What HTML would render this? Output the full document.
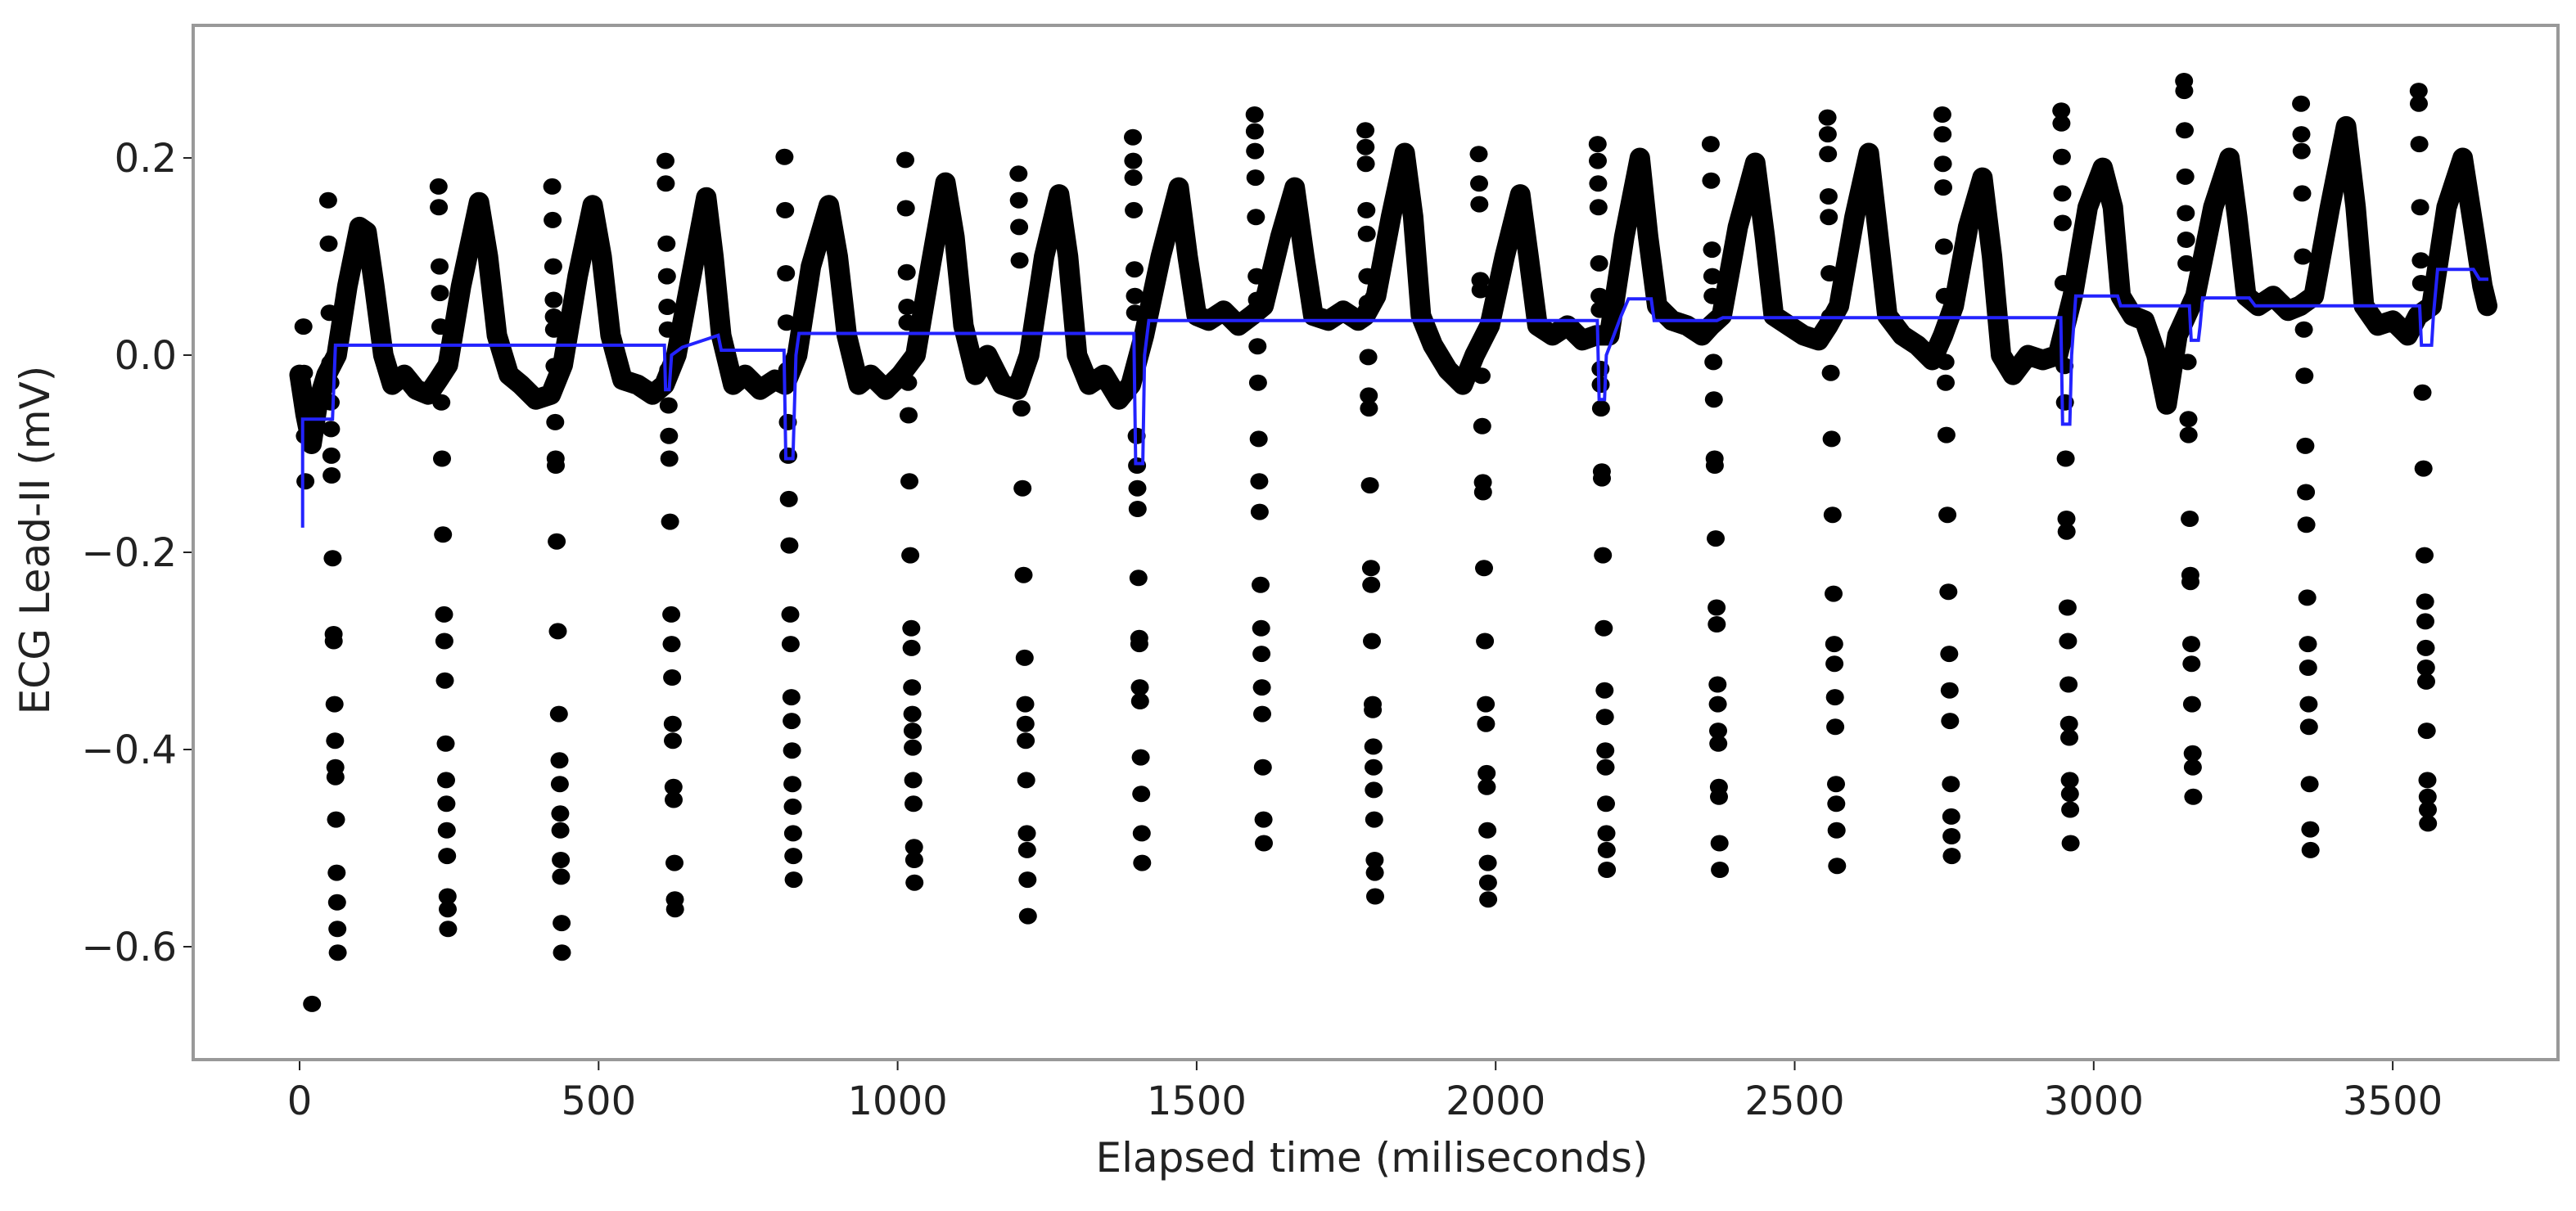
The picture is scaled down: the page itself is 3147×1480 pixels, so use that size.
<!DOCTYPE html>
<html><head><meta charset="utf-8"><style>
html,body{margin:0;padding:0;background:#fff;}
svg{display:block;}
text{font-family:"DejaVu Sans","Liberation Sans",sans-serif;fill:#222;}
</style></head><body>
<svg id="chart" width="3147" height="1480" viewBox="0 0 3147 1480" xmlns="http://www.w3.org/2000/svg">
<rect x="0" y="0" width="3147" height="1480" fill="#fff"/>
<g id="plot"></g>
<rect x="236" y="31" width="2889" height="1264" fill="none" stroke="#999" stroke-width="4"/>
<g id="xticks"></g>
<g id="yticks"></g>
<text x="1676" y="1432" font-size="50" text-anchor="middle">Elapsed time (miliseconds)</text>
<text x="0" y="0" font-size="50" text-anchor="middle" transform="translate(60,660) rotate(-90)">ECG Lead-II  (mV)</text>
</svg>
<script>
const xTicks=[0,500,1000,1500,2000,2500,3000,3500];
const xTickLabels=["0","500","1000","1500","2000","2500","3000","3500"];
const yTicks=[-0.6,-0.4,-0.2,0.0,0.2];
const yTickLabels=["\u22120.6","\u22120.4","\u22120.2","0.0","0.2"];
const traceT=[0,10,20,30,45,62,80,100,112,125,140,155,175,195,215,232,248,270,300,315,330,350,370,395,420,440,465,490,505,520,540,565,590,610,630,655,680,692,705,725,745,770,795,812,832,855,885,900,915,935,955,980,1005,1030,1055,1080,1095,1110,1130,1150,1175,1200,1220,1245,1270,1285,1300,1320,1345,1370,1390,1412,1440,1470,1485,1500,1520,1545,1570,1592,1612,1640,1664,1680,1695,1720,1745,1770,1782,1800,1825,1848,1862,1875,1895,1920,1945,1965,1990,2015,2041,2055,2070,2095,2120,2145,2168,2190,2215,2241,2255,2270,2295,2320,2345,2360,2378,2405,2434,2450,2465,2490,2515,2540,2556,2574,2600,2624,2640,2655,2680,2705,2730,2748,2766,2790,2814,2830,2845,2865,2890,2915,2940,2965,2990,3015,3032,3045,3065,3085,3105,3122,3140,3170,3200,3227,3240,3255,3275,3300,3325,3345,3368,3395,3422,3438,3452,3475,3500,3525,3542,3565,3590,3617,3635,3650,3658];
const traceV=[-0.02,-0.06,-0.09,-0.05,-0.02,0.0,0.07,0.13,0.125,0.07,0.0,-0.03,-0.02,-0.035,-0.04,-0.025,-0.01,0.07,0.155,0.1,0.02,-0.02,-0.03,-0.045,-0.04,-0.01,0.08,0.152,0.1,0.02,-0.025,-0.03,-0.04,-0.03,0.0,0.08,0.16,0.1,0.02,-0.03,-0.02,-0.035,-0.025,-0.03,0.0,0.09,0.152,0.1,0.02,-0.03,-0.02,-0.035,-0.02,0.0,0.09,0.175,0.12,0.03,-0.02,0.0,-0.03,-0.035,0.0,0.1,0.163,0.1,0.0,-0.03,-0.02,-0.045,-0.03,0.02,0.1,0.17,0.1,0.04,0.035,0.045,0.03,0.04,0.05,0.12,0.17,0.1,0.04,0.035,0.045,0.035,0.04,0.06,0.14,0.205,0.14,0.04,0.01,-0.015,-0.03,0.0,0.03,0.1,0.163,0.1,0.03,0.02,0.03,0.015,0.02,0.02,0.12,0.2,0.12,0.05,0.035,0.03,0.02,0.03,0.04,0.13,0.195,0.12,0.04,0.03,0.02,0.015,0.03,0.05,0.14,0.205,0.12,0.04,0.02,0.01,-0.005,0.02,0.05,0.13,0.18,0.1,0.0,-0.02,0.0,-0.005,0.0,0.06,0.15,0.19,0.15,0.06,0.04,0.035,0.0,-0.05,0.02,0.06,0.15,0.2,0.14,0.06,0.05,0.06,0.045,0.05,0.06,0.15,0.232,0.15,0.05,0.03,0.035,0.02,0.04,0.05,0.15,0.2,0.13,0.07,0.05];
const spikeTimes=[7,51,236,426,616,815,1017,1206,1398,1602,1787,1976,2175,2364,2560,2752,2951,3157,3352,3549];
const spikeVals=[
[0.029,-0.018,-0.055,-0.082,-0.128,-0.658],
[0.157,0.113,0.043,-0.008,-0.028,-0.048,-0.075,-0.102,-0.122,-0.206,-0.283,-0.290,-0.354,-0.391,-0.418,-0.428,-0.471,-0.525,-0.555,-0.582,-0.606],
[0.171,0.150,0.090,0.063,0.029,-0.048,-0.105,-0.182,-0.263,-0.290,-0.330,-0.394,-0.431,-0.455,-0.482,-0.508,-0.549,-0.562,-0.582],
[0.171,0.137,0.090,0.056,0.039,0.026,-0.011,-0.028,-0.068,-0.105,-0.112,-0.189,-0.280,-0.364,-0.411,-0.435,-0.465,-0.482,-0.512,-0.529,-0.576,-0.606],
[0.197,0.174,0.113,0.080,0.049,0.026,-0.015,-0.051,-0.082,-0.105,-0.169,-0.263,-0.293,-0.327,-0.374,-0.391,-0.438,-0.451,-0.515,-0.552,-0.562],
[0.201,0.147,0.083,0.033,-0.015,-0.068,-0.102,-0.146,-0.193,-0.263,-0.293,-0.347,-0.371,-0.401,-0.435,-0.458,-0.485,-0.508,-0.532],
[0.198,0.149,0.084,0.049,0.033,-0.028,-0.061,-0.128,-0.203,-0.277,-0.297,-0.337,-0.364,-0.381,-0.398,-0.431,-0.455,-0.499,-0.512,-0.535],
[0.184,0.157,0.130,0.096,-0.054,-0.135,-0.223,-0.307,-0.354,-0.374,-0.391,-0.431,-0.485,-0.502,-0.532,-0.569],
[0.221,0.197,0.180,0.147,0.087,0.060,0.043,-0.082,-0.112,-0.135,-0.156,-0.226,-0.287,-0.293,-0.337,-0.351,-0.408,-0.445,-0.485,-0.515],
[0.244,0.227,0.207,0.180,0.140,0.080,0.056,0.009,-0.028,-0.085,-0.128,-0.159,-0.233,-0.277,-0.303,-0.337,-0.364,-0.418,-0.471,-0.495],
[0.228,0.211,0.194,0.147,0.123,0.080,0.053,-0.002,-0.041,-0.054,-0.132,-0.216,-0.233,-0.290,-0.354,-0.360,-0.397,-0.418,-0.441,-0.471,-0.512,-0.525,-0.549],
[0.204,0.174,0.153,0.076,0.066,-0.021,-0.072,-0.129,-0.139,-0.216,-0.290,-0.354,-0.374,-0.424,-0.438,-0.482,-0.515,-0.535,-0.552],
[0.214,0.197,0.174,0.150,0.093,0.060,0.046,-0.014,-0.030,-0.054,-0.118,-0.125,-0.203,-0.277,-0.340,-0.367,-0.401,-0.418,-0.455,-0.485,-0.502,-0.522],
[0.214,0.177,0.107,0.080,0.060,-0.007,-0.045,-0.105,-0.112,-0.186,-0.256,-0.273,-0.334,-0.354,-0.381,-0.394,-0.438,-0.448,-0.495,-0.522],
[0.241,0.224,0.204,0.161,0.140,0.083,0.039,-0.018,-0.085,-0.162,-0.242,-0.293,-0.313,-0.347,-0.377,-0.435,-0.455,-0.482,-0.518],
[0.244,0.224,0.194,0.170,0.110,0.060,-0.007,-0.028,-0.081,-0.162,-0.240,-0.303,-0.340,-0.371,-0.435,-0.468,-0.488,-0.508],
[0.248,0.235,0.201,0.164,0.134,0.073,0.026,-0.011,-0.048,-0.105,-0.166,-0.179,-0.256,-0.290,-0.334,-0.374,-0.388,-0.431,-0.445,-0.461,-0.495],
[0.278,0.268,0.228,0.181,0.144,0.117,0.093,-0.007,-0.065,-0.081,-0.166,-0.223,-0.230,-0.293,-0.313,-0.354,-0.404,-0.418,-0.448],
[0.255,0.224,0.207,0.164,0.100,0.026,-0.021,-0.092,-0.139,-0.172,-0.246,-0.293,-0.317,-0.354,-0.377,-0.435,-0.481,-0.502],
[0.268,0.255,0.214,0.150,0.096,0.073,-0.038,-0.115,-0.203,-0.250,-0.270,-0.297,-0.317,-0.331,-0.381,-0.431,-0.448,-0.461,-0.475]
];
const baseT=[5,5,7,55,60,610,612,618,622,640,700,705,810,813,825,830,835,1395,1398,1410,1413,1420,2170,2173,2182,2185,2210,2222,2260,2265,2370,2380,2945,2948,2960,2963,2970,3040,3045,3160,3163,3175,3178,3182,3260,3270,3545,3548,3565,3568,3575,3635,3645,3660];
const baseV=[-0.175,-0.065,-0.065,-0.065,0.01,0.01,-0.035,-0.035,0.0,0.008,0.02,0.005,0.005,-0.105,-0.105,0.0,0.022,0.022,-0.11,-0.11,0.0,0.035,0.035,-0.045,-0.045,0.0,0.04,0.057,0.057,0.035,0.035,0.038,0.038,-0.07,-0.07,0.0,0.06,0.06,0.05,0.05,0.015,0.015,0.03,0.058,0.058,0.05,0.05,0.01,0.01,0.04,0.087,0.087,0.077,0.077];

const NS="http://www.w3.org/2000/svg";
function xs(t){return 366+t*0.7306;}
function ys(v){return 434-v*1205;}
const plot=document.getElementById('plot');
let d="";
for(let i=0;i<traceT.length;i++){d+=(i?"L":"M")+xs(traceT[i]).toFixed(1)+","+ys(traceV[i]).toFixed(1);}
const tr=document.createElementNS(NS,'path');


tr.setAttribute('d',d);tr.setAttribute('fill','none');tr.setAttribute('stroke','#000');
tr.setAttribute('stroke-width','25');tr.setAttribute('stroke-linejoin','round');tr.setAttribute('stroke-linecap','round');
plot.appendChild(tr);
spikeTimes.forEach((tR,b)=>{
  spikeVals[b].forEach(v=>{
    const c=document.createElementNS(NS,'ellipse');
    
    
    c.setAttribute('cx',xs(tR - v*21).toFixed(1));
    c.setAttribute('cy',ys(v).toFixed(1));
    c.setAttribute('rx','11');c.setAttribute('ry','10');c.setAttribute('fill','#000');
    plot.appendChild(c);
  });
});
let bd="";
for(let i=0;i<baseT.length;i++){bd+=(i?"L":"M")+xs(baseT[i]).toFixed(1)+","+ys(baseV[i]).toFixed(1);}
const bl=document.createElementNS(NS,'path');


bl.setAttribute('d',bd);bl.setAttribute('fill','none');bl.setAttribute('stroke','#2323ff');bl.setAttribute('stroke-width','4');
plot.appendChild(bl);
const xg=document.getElementById('xticks');
xTicks.forEach((t,i)=>{
  const l=document.createElementNS(NS,'line');
  
  
  l.setAttribute('x1',xs(t));l.setAttribute('x2',xs(t));l.setAttribute('y1',1297);l.setAttribute('y2',1308);
  l.setAttribute('stroke','#222');l.setAttribute('stroke-width','2');xg.appendChild(l);
  const tx=document.createElementNS(NS,'text');
  
  
  tx.setAttribute('x',xs(t));tx.setAttribute('y',1362);tx.setAttribute('font-size','48');tx.setAttribute('text-anchor','middle');
  tx.textContent=xTickLabels[i];xg.appendChild(tx);
});
const yg=document.getElementById('yticks');
yTicks.forEach((v,i)=>{
  const l=document.createElementNS(NS,'line');
  
  
  l.setAttribute('x1',224);l.setAttribute('x2',234);l.setAttribute('y1',ys(v));l.setAttribute('y2',ys(v));
  l.setAttribute('stroke','#222');l.setAttribute('stroke-width','2');yg.appendChild(l);
  const tx=document.createElementNS(NS,'text');
  
  
  tx.setAttribute('x',216);tx.setAttribute('y',ys(v)+17);tx.setAttribute('font-size','48');tx.setAttribute('text-anchor','end');
  tx.textContent=yTickLabels[i];yg.appendChild(tx);
});
</script>
</body></html>
